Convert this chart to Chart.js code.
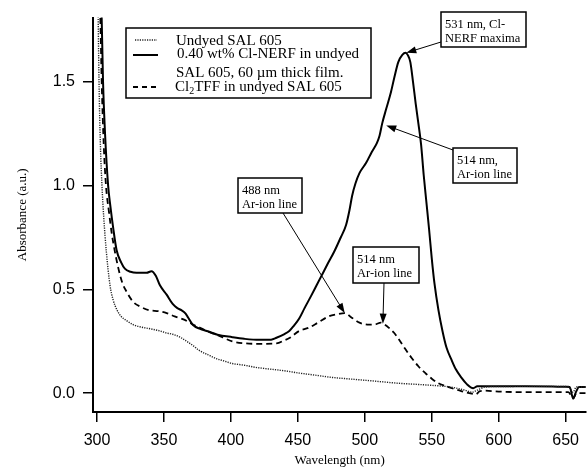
<!DOCTYPE html>
<html>
<head>
<meta charset="UTF-8">
<title>Absorbance spectra</title>
<script src="https://cdn.jsdelivr.net/npm/chart.js"></script>
<style>
  body { margin: 0; background: #fff; }
  #wrap { width: 588px; height: 468px; }
</style>
</head>
<body>
<div id="wrap"><canvas id="absChart" width="588" height="468"></canvas></div>
<script>
// values: wavelength (nm) and absorbance (a.u.)
const undyedNm  = [300.5, 301.5, 302.5, 303.7, 305, 307, 309.7, 312, 315, 318, 322, 327, 332, 340, 347, 352, 356.5, 362, 367, 372, 376.6, 383, 389, 395, 401, 410, 418, 426.5, 440, 451, 463, 475.6, 488, 501, 513, 525, 538, 550, 560, 568, 575, 580, 584, 590, 600, 620, 640, 652, 655.5, 658, 665];
const undyedAbs = [2.0, 1.5, 1.2, 1.0, 0.85, 0.68, 0.52, 0.45, 0.40, 0.37, 0.35, 0.33, 0.32, 0.31, 0.30, 0.29, 0.284, 0.27, 0.25, 0.228, 0.205, 0.185, 0.167, 0.155, 0.143, 0.135, 0.125, 0.118, 0.108, 0.097, 0.087, 0.076, 0.069, 0.062, 0.055, 0.048, 0.043, 0.038, 0.033, 0.025, 0.014, 0.005, 0.015, 0.03, 0.032, 0.033, 0.033, 0.032, 0.005, 0.03, 0.03];

const nerfNm  = [302.5, 303.5, 304.5, 306, 308.3, 310, 312, 314.6, 318, 320.8, 325, 329.5, 337, 340.7, 344, 347, 352, 356.5, 360, 363, 366, 368, 371.5, 377, 382, 390, 401, 410, 421, 430, 434, 440, 443.6, 447, 451, 455, 460, 464, 468, 472, 477, 482, 486, 488.5, 490.5, 493, 496, 501, 505, 509, 511, 513, 516, 519.5, 522, 525, 528, 530.5, 532, 534, 536, 538, 540, 542, 544, 546, 548, 550, 552, 555, 558, 561, 565, 568, 572, 576, 581, 584, 590, 600, 620, 640, 650, 653, 655.6, 658, 660, 665];
const nerfAbs = [2.0, 1.8, 1.5, 1.25, 1.0, 0.9, 0.8, 0.69, 0.63, 0.60, 0.585, 0.58, 0.58, 0.588, 0.565, 0.52, 0.475, 0.43, 0.41, 0.40, 0.385, 0.365, 0.33, 0.31, 0.30, 0.282, 0.27, 0.262, 0.257, 0.258, 0.267, 0.285, 0.30, 0.325, 0.36, 0.41, 0.47, 0.52, 0.57, 0.62, 0.68, 0.75, 0.81, 0.88, 0.95, 1.01, 1.06, 1.11, 1.16, 1.205, 1.24, 1.30, 1.37, 1.45, 1.52, 1.595, 1.63, 1.64, 1.63, 1.595, 1.50, 1.395, 1.30, 1.20, 1.05, 0.92, 0.79, 0.65, 0.53, 0.40, 0.30, 0.22, 0.157, 0.115, 0.076, 0.045, 0.024, 0.033, 0.033, 0.033, 0.033, 0.032, 0.031, 0.03, -0.025, 0.01, 0.03, 0.03];

const tffNm  = [301.5, 302.5, 303.5, 305, 306.7, 309, 311, 313.4, 316, 319, 322, 327, 333, 339, 346, 352, 358, 364, 368, 372, 377, 382, 390, 401, 411, 422, 434, 440, 444, 451, 458, 465, 473, 479, 485, 490, 496, 503, 508, 512, 515, 518, 522, 525.4, 530, 535, 540, 545.5, 550, 555, 560, 565, 572, 578, 583, 586, 590, 600, 620, 640, 652, 655.6, 658, 665];
const tffAbs = [2.0, 1.8, 1.5, 1.2, 1.0, 0.87, 0.77, 0.68, 0.60, 0.53, 0.49, 0.44, 0.415, 0.40, 0.395, 0.386, 0.37, 0.357, 0.345, 0.33, 0.315, 0.30, 0.28, 0.25, 0.24, 0.238, 0.24, 0.255, 0.267, 0.30, 0.315, 0.34, 0.37, 0.38, 0.386, 0.365, 0.34, 0.33, 0.332, 0.34, 0.33, 0.315, 0.29, 0.26, 0.215, 0.17, 0.13, 0.095, 0.07, 0.048, 0.035, 0.024, 0.01, 0.0, -0.005, 0.01, 0.012, 0.008, 0.005, 0.005, 0.005, -0.025, 0.0, 0.0];

const xTicks = [300, 350, 400, 450, 500, 550, 600, 650];
const yTicks = [0, 0.5, 1.0, 1.5];

// callouts: text, box (px), arrow start (px), arrow tip (data)
const notes = [
  { lines: ['531 nm, Cl-', 'NERF maxima'], box: [441, 12, 85, 35], from: [441, 42], nm: 531, abs: 1.64 },
  { lines: ['514 nm,', 'Ar-ion line'], box: [453, 148, 64, 35], from: [453, 150], nm: 516, abs: 1.29 },
  { lines: ['488 nm', 'Ar-ion line'], box: [238, 178, 64, 35], from: [283, 213], nm: 485, abs: 0.386 },
  { lines: ['514 nm', 'Ar-ion line'], box: [353, 247, 66, 36], from: [384, 283], nm: 513.5, abs: 0.335 }
];

const pts = (xs, ys) => xs.map((x, i) => ({ x: x, y: ys[i] }));
const serif = '"Liberation Serif", "Times New Roman", serif';
const sans = '"Liberation Sans", Arial, sans-serif';

function arrow(ctx, x0, y0, x1, y1) {
  const a = Math.atan2(y1 - y0, x1 - x0), L = 10, W = 3.5;
  const c = Math.cos(a), s = Math.sin(a);
  ctx.beginPath(); ctx.moveTo(x0, y0); ctx.lineTo(x1 - L * c * 0.8, y1 - L * s * 0.8); ctx.stroke();
  ctx.beginPath();
  ctx.moveTo(x1, y1);
  ctx.lineTo(x1 - L * c + W * s, y1 - L * s - W * c);
  ctx.lineTo(x1 - L * c - W * s, y1 - L * s + W * c);
  ctx.closePath(); ctx.fill();
}

const extras = {
  id: 'extras',
  afterDraw(chart) {
    const ctx = chart.ctx, sx = chart.scales.x, sy = chart.scales.y;
    ctx.save();
    ctx.strokeStyle = '#000'; ctx.fillStyle = '#000';

    // legend box
    ctx.fillStyle = '#fff'; ctx.fillRect(126, 28, 245, 70);
    ctx.lineWidth = 1.5; ctx.strokeRect(126, 28, 245, 70);
    ctx.fillStyle = '#000';
    ctx.lineWidth = 1.4; ctx.strokeStyle = '#222'; ctx.setLineDash([1.2, 1.2]);
    ctx.beginPath(); ctx.moveTo(135, 40); ctx.lineTo(157, 40); ctx.stroke();
    ctx.strokeStyle = '#000'; ctx.lineWidth = 2; ctx.setLineDash([]);
    ctx.beginPath(); ctx.moveTo(133, 55); ctx.lineTo(158, 55); ctx.stroke();
    ctx.lineWidth = 1.8; ctx.setLineDash([5, 4]);
    ctx.beginPath(); ctx.moveTo(133, 87); ctx.lineTo(158, 87); ctx.stroke();
    ctx.setLineDash([]);

    ctx.font = '15px ' + serif; ctx.textBaseline = 'alphabetic'; ctx.textAlign = 'left';
    ctx.fillText('Undyed SAL 605', 176, 45);
    ctx.fillText('0.40 wt% Cl-NERF in undyed', 177, 58);
    ctx.fillText('SAL 605, 60 \u00b5m thick film.', 176, 77);
    let x = 175;
    ctx.fillText('Cl', x, 91); x += ctx.measureText('Cl').width;
    ctx.font = '10px ' + serif; ctx.fillText('2', x, 94); x += ctx.measureText('2').width;
    ctx.font = '15px ' + serif; ctx.fillText('TFF in undyed SAL 605', x, 91);

    // callouts
    ctx.font = '12.5px ' + serif;
    notes.forEach(n => {
      const [bx, by, bw, bh] = n.box;
      ctx.fillStyle = '#fff'; ctx.fillRect(bx, by, bw, bh);
      ctx.lineWidth = 1.5; ctx.strokeRect(bx, by, bw, bh);
      ctx.fillStyle = '#000';
      ctx.fillText(n.lines[0], bx + 4, by + 16);
      ctx.fillText(n.lines[1], bx + 4, by + 30);
      ctx.lineWidth = 1;
      arrow(ctx, n.from[0], n.from[1], sx.getPixelForValue(n.nm), sy.getPixelForValue(n.abs));
    });
    ctx.restore();
  }
};

const axisCommon = {
  type: 'linear',
  border: { display: true, color: '#000', width: 2 },
  grid: { drawOnChartArea: false, drawTicks: true, tickLength: 10, color: '#000', lineWidth: 1.5 }
};

new Chart(document.getElementById('absChart'), {
  type: 'line',
  data: {
    datasets: [
      { label: 'Undyed SAL 605', data: pts(undyedNm, undyedAbs), borderColor: '#222', borderWidth: 1.4, borderDash: [1.2, 1.2] },
      { label: '0.40 wt% Cl-NERF in undyed SAL 605, 60 \u00b5m thick film.', data: pts(nerfNm, nerfAbs), borderColor: '#000', borderWidth: 2 },
      { label: 'Cl2TFF in undyed SAL 605', data: pts(tffNm, tffAbs), borderColor: '#000', borderWidth: 1.8, borderDash: [6, 4] }
    ]
  },
  options: {
    responsive: false,
    animation: false,
    layout: { padding: { top: 13, right: 0, left: 0, bottom: 0 } },
    elements: { point: { radius: 0 }, line: { cubicInterpolationMode: 'monotone', fill: false } },
    plugins: { legend: { display: false }, tooltip: { enabled: false } },
    scales: {
      x: Object.assign({}, axisCommon, {
        min: 297, max: 665.3,
        afterBuildTicks: s => { s.ticks = xTicks.map(v => ({ value: v })); },
        afterFit: s => { s.height = 56; },
        ticks: { color: '#000', padding: 9, font: { family: sans, size: 16 } },
        title: { display: true, text: 'Wavelength (nm)', color: '#000', padding: { top: 0, bottom: 0 }, font: { family: serif, size: 13 } }
      }),
      y: Object.assign({}, axisCommon, {
        min: -0.0905, max: 1.8095,
        afterBuildTicks: s => { s.ticks = yTicks.map(v => ({ value: v })); },
        afterFit: s => { s.width = 93; },
        ticks: { color: '#000', padding: 8, font: { family: sans, size: 16 }, callback: v => v.toFixed(1) },
        title: { display: true, text: 'Absorbance (a.u.)', color: '#000', padding: { top: 15, bottom: 0 }, font: { family: serif, size: 13 } }
      })
    }
  },
  plugins: [extras]
});
</script>
</body>
</html>
